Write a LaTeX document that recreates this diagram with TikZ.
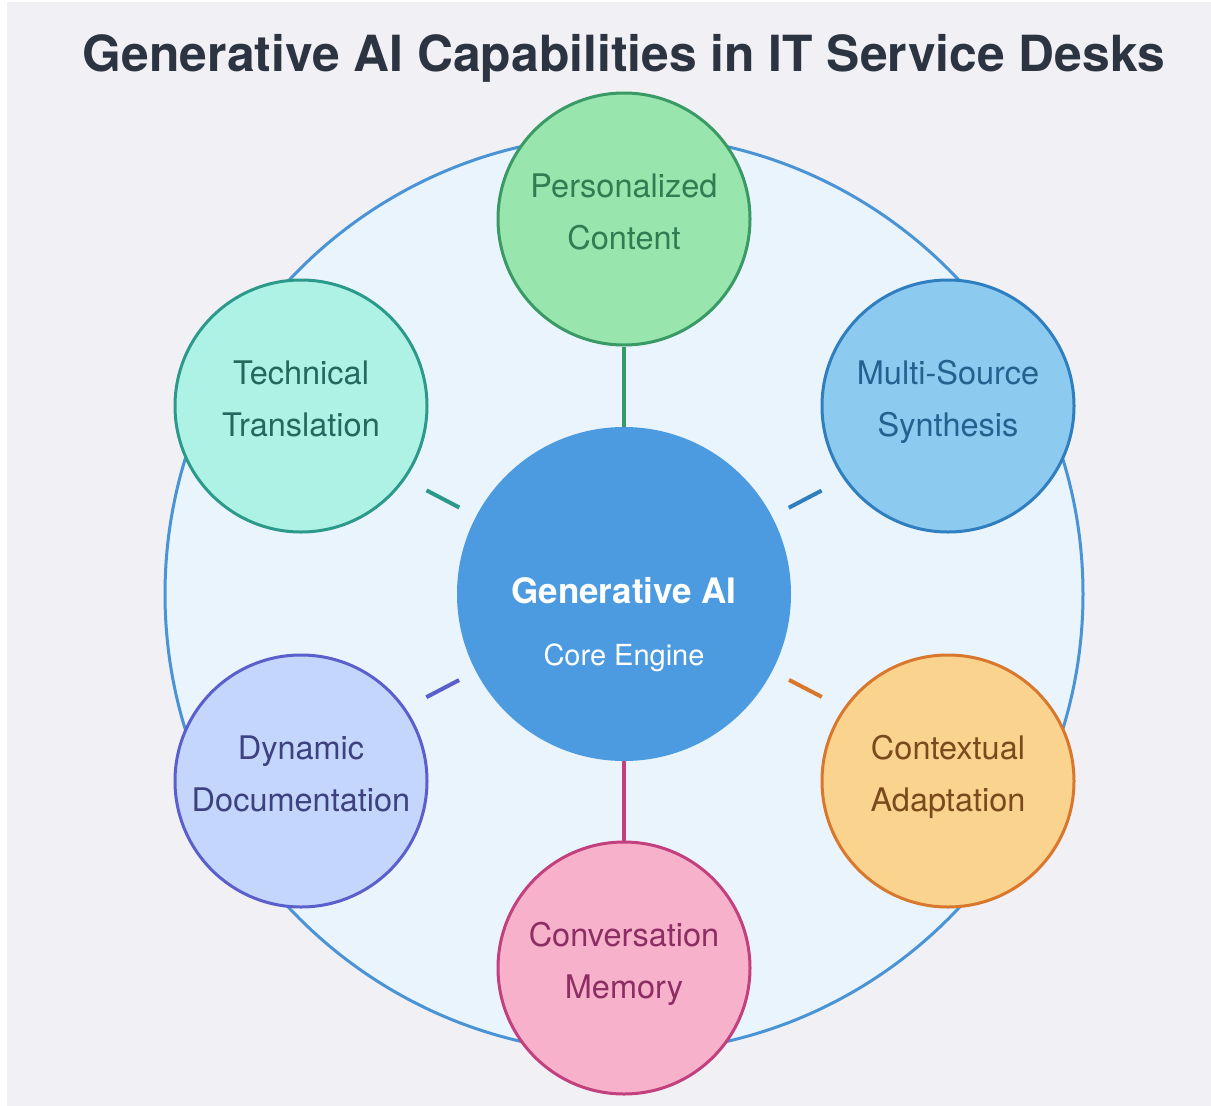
\documentclass[tikz,border=0pt]{standalone}
\usepackage{fontspec}
\setmainfont{TeX Gyre Heros}
\usetikzlibrary{calc}
\definecolor{bgc}{HTML}{F0F0F5}
\definecolor{titlec}{HTML}{2B3440}
\definecolor{ringc}{HTML}{4A94D6}
\definecolor{ringfill}{HTML}{EAF4FD}
\definecolor{corefill}{HTML}{4C9BE0}
\definecolor{persfill}{HTML}{98E5AE}\definecolor{persline}{HTML}{3A9A65}\definecolor{perstext}{HTML}{2F7D50}
\definecolor{techfill}{HTML}{AEF2E6}\definecolor{techline}{HTML}{2C9A8A}\definecolor{techtext}{HTML}{23685E}
\definecolor{multfill}{HTML}{8DCAF0}\definecolor{multline}{HTML}{2F7EC0}\definecolor{multtext}{HTML}{25618F}
\definecolor{dynfill}{HTML}{C4D6FB}\definecolor{dynline}{HTML}{5A5FCC}\definecolor{dyntext}{HTML}{3D4180}
\definecolor{ctxfill}{HTML}{FAD38E}\definecolor{ctxline}{HTML}{D9782D}\definecolor{ctxtext}{HTML}{7B4A1C}
\definecolor{memfill}{HTML}{F7B1CB}\definecolor{memline}{HTML}{C2407E}\definecolor{memtext}{HTML}{8C2E63}
\begin{document}
\begin{tikzpicture}[x=1pt,y=-1pt,
  capnode/.style={circle, inner sep=0pt, minimum size=252pt, line width=3pt},
  captext/.style={anchor=base, inner sep=0pt, font=\fontsize{32.5}{39}\selectfont},
  conn/.style={line width=4pt}]
\useasboundingbox (0,0) rectangle (1211,1106);
\fill[white] (0,0) rectangle (1211,1106);
\fill[bgc] (7,2) rectangle (1211,1106);
\node[anchor=base, inner sep=0pt, text=titlec, font=\bfseries\fontsize{49.8}{58}\selectfont] (title) at (624,71) {Generative AI Capabilities in IT Service Desks};
\node[circle, inner sep=0pt, minimum size=918pt, draw=ringc, line width=3pt, fill=ringfill] (ring) at (624,594) {};
\coordinate (c0) at (624,594);
% node positions
\coordinate (pp) at (624,219);
\coordinate (tp) at (301,406);
\coordinate (mp) at (948,406);
\coordinate (dp) at (301,781);
\coordinate (cp) at (948,781);
\coordinate (mm) at (624,968);
\node[circle, inner sep=0pt, minimum size=334pt, fill=corefill] (core) at (c0) {};
\node[capnode, draw=persline, fill=persfill] (pers) at (pp) {};
\node[capnode, draw=techline, fill=techfill] (tech) at (tp) {};
\node[capnode, draw=multline, fill=multfill] (mult) at (mp) {};
\node[capnode, draw=dynline, fill=dynfill] (dyn) at (dp) {};
\node[capnode, draw=ctxline, fill=ctxfill] (ctx) at (cp) {};
\node[capnode, draw=memline, fill=memfill] (mem) at (mm) {};
% connectors
\draw[conn, persline] (core) -- (pers);
\draw[conn, memline] (core) -- (mem);
\draw[conn, techline] ($(core.center)!186pt!2.5:(tech.center)$) -- ($(core.center)!223pt!2.5:(tech.center)$);
\draw[conn, multline] ($(core.center)!186pt!-2.5:(mult.center)$) -- ($(core.center)!223pt!-2.5:(mult.center)$);
\draw[conn, dynline] ($(core.center)!186pt!-2.5:(dyn.center)$) -- ($(core.center)!223pt!-2.5:(dyn.center)$);
\draw[conn, ctxline] ($(core.center)!186pt!2.5:(ctx.center)$) -- ($(core.center)!223pt!2.5:(ctx.center)$);
% core text
\node[anchor=base, inner sep=0pt, text=white, font=\bfseries\fontsize{35}{42}\selectfont] (coreA) at ($(core.center)+(0,9)$) {Generative AI};
\node[anchor=base, inner sep=0pt, text=white, font=\fontsize{29}{35}\selectfont] (coreB) at ($(core.center)+(0,71)$) {Core Engine};
% capability texts
\node[captext, text=perstext] (persA) at ($(pers.center)+(0,-21.5)$) {Personalized};
\node[captext, text=perstext] (persB) at ($(pers.center)+(0,30.5)$) {Content};
\node[captext, text=techtext] (techA) at ($(tech.center)+(0,-21.5)$) {Technical};
\node[captext, text=techtext] (techB) at ($(tech.center)+(0,30.5)$) {Translation};
\node[captext, text=multtext] (multA) at ($(mult.center)+(0,-21.5)$) {Multi-Source};
\node[captext, text=multtext] (multB) at ($(mult.center)+(0,30.5)$) {Synthesis};
\node[captext, text=dyntext] (dynA) at ($(dyn.center)+(0,-21.5)$) {Dynamic};
\node[captext, text=dyntext] (dynB) at ($(dyn.center)+(0,30.5)$) {Documentation};
\node[captext, text=ctxtext] (ctxA) at ($(ctx.center)+(0,-21.5)$) {Contextual};
\node[captext, text=ctxtext] (ctxB) at ($(ctx.center)+(0,30.5)$) {Adaptation};
\node[captext, text=memtext] (memA) at ($(mem.center)+(0,-21.5)$) {Conversation};
\node[captext, text=memtext] (memB) at ($(mem.center)+(0,30.5)$) {Memory};
\end{tikzpicture}
\end{document}
